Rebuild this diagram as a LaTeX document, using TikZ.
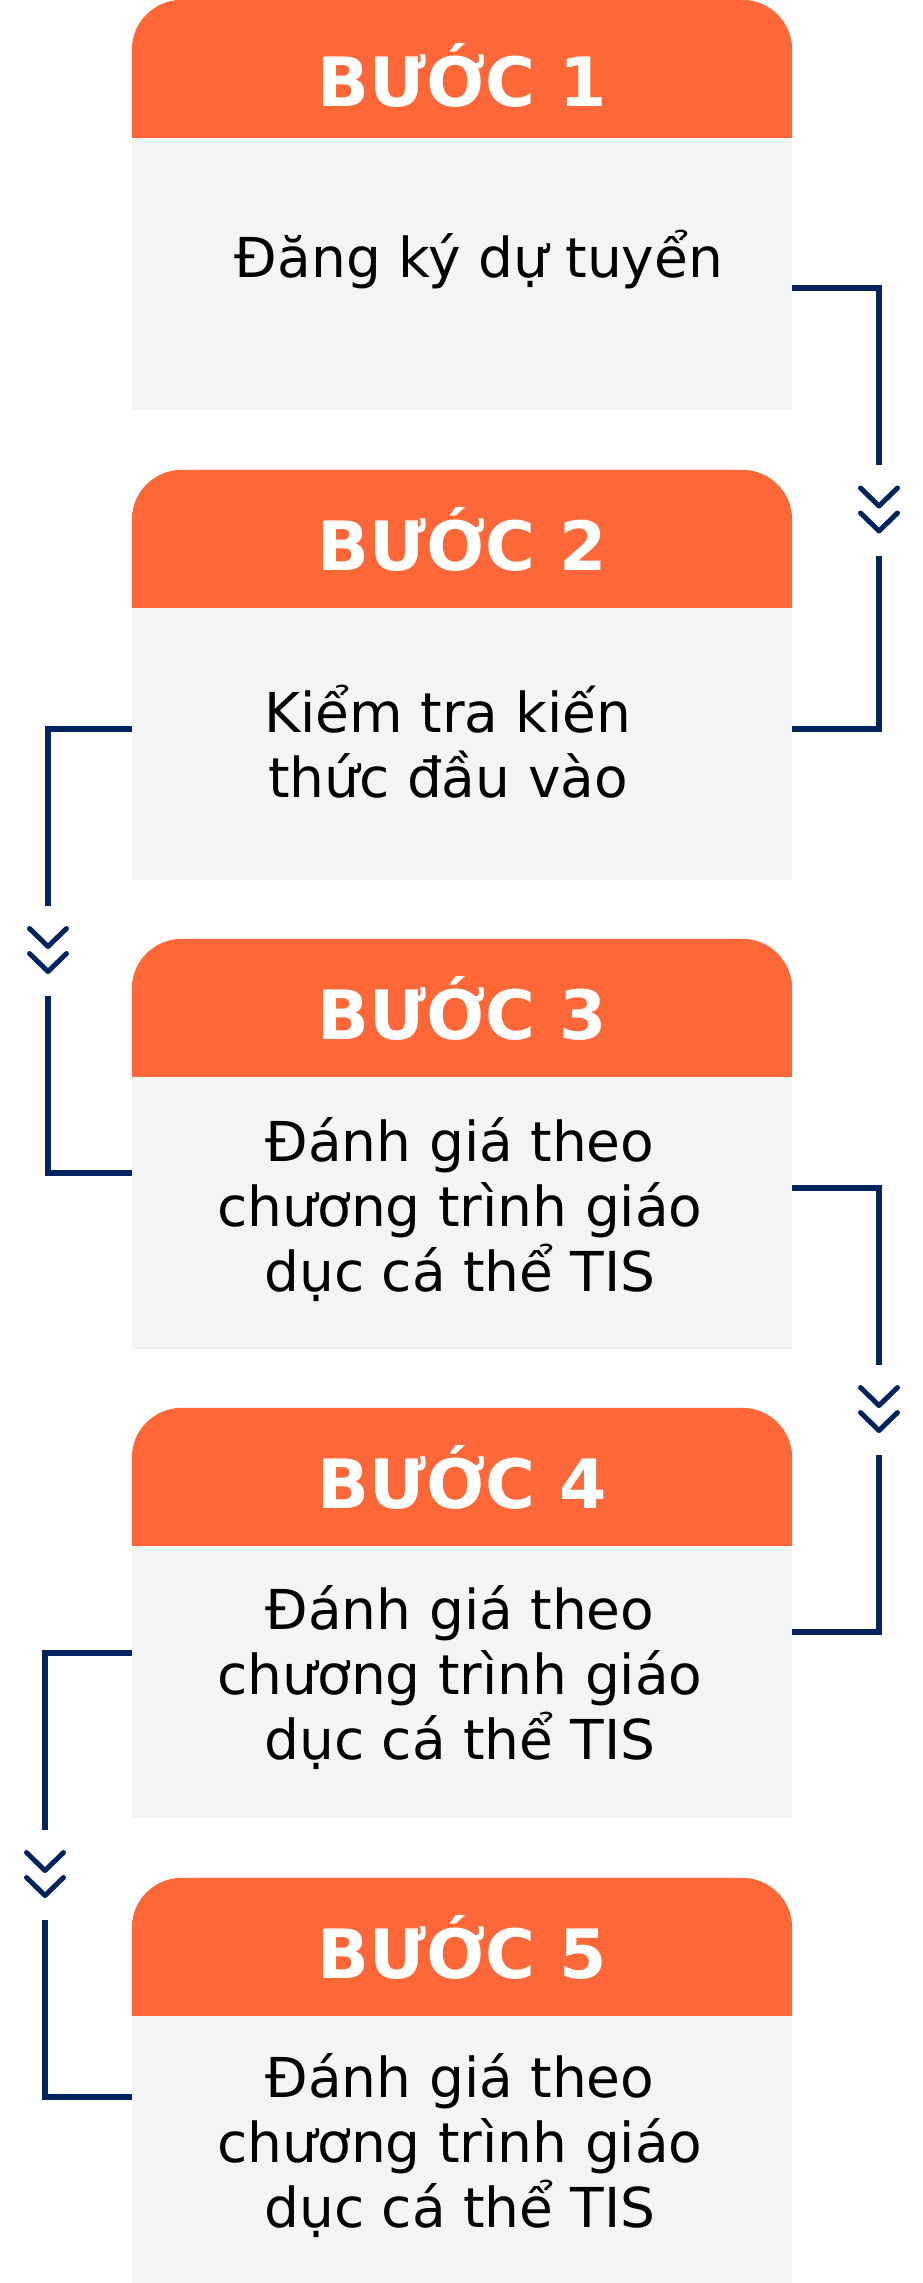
\documentclass[tikz,border=0pt]{standalone}
\usepackage{fontspec}
\setmainfont{DejaVu Sans}
\usepackage{tikz}
\usetikzlibrary{backgrounds}
\definecolor{steporange}{HTML}{FE6738}
\definecolor{stepgray}{HTML}{F4F4F4}
\definecolor{stepnavy}{HTML}{03235F}

\begin{document}
\begin{tikzpicture}[x=1pt, y=-1pt,
  head/.style={minimum width=660pt, minimum height=138pt, inner sep=0pt, text=white, font=\fontsize{68}{80}\selectfont\bfseries, text height=62pt, text depth=0pt},
  headfill/.style={fill=steporange, rounded corners=50pt},
  body/.style={fill=stepgray, minimum width=660pt, minimum height=272pt, inner sep=0pt},
  txt/.style={anchor=north, inner sep=0pt, align=center, font=\fontsize{55}{65}\selectfont, execute at begin node={\rule{0pt}{60pt}}},
  chev/.style={minimum width=42pt, minimum height=90pt, inner sep=0pt},
  link/.style={draw=stepnavy, line width=6pt},
  chevline/.style={draw=stepnavy, line width=5pt, line cap=round, line join=round}]
\useasboundingbox (0,0) rectangle (923,2283);
\node[head, text height=74pt] (h1) at (462,69) {BƯỚC 1};
\node[body] (b1) at (462,274) {};
\node[txt] (t1) at (479,217) {Đăng ký dự tuyển};
\node[head] (h2) at (462,539) {BƯỚC 2};
\node[body] (b2) at (462,744) {};
\node[txt] (t2) at (448,684.5) {Kiểm tra kiến\\thức đầu vào};
\node[head] (h3) at (462,1008) {BƯỚC 3};
\node[body] (b3) at (462,1213) {};
\node[txt] (t3) at (460,1117) {Đánh giá theo\\chương trình giáo\\dục cá thể TIS};
\node[head] (h4) at (462,1477) {BƯỚC 4};
\node[body] (b4) at (462,1682) {};
\node[txt] (t4) at (460,1585) {Đánh giá theo\\chương trình giáo\\dục cá thể TIS};
\node[head] (h5) at (462,1947) {BƯỚC 5};
\node[body] (b5) at (462,2152) {};
\node[txt] (t5) at (460,2053) {Đánh giá theo\\chương trình giáo\\dục cá thể TIS};
\node[chev] (c1) at (879,510.5) {};
\node[chev] (c2) at (48,951) {};
\node[chev] (c3) at (879,1410) {};
\node[chev] (c4) at (45,1875) {};
\begin{scope}[on background layer]
\foreach \h in {h1,h2,h3,h4,h5}
  \fill[headfill] (\h.south west) -- (\h.north west) -- (\h.north east) -- (\h.south east);
\end{scope}
\foreach \c in {c1,c2,c3,c4}
  \foreach \dy in {-22.5,2.5}
    \draw[chevline] ([shift={(-18.5,\dy)}]\c.center) -- ++(18.5,18) -- ++(18.5,-18);
\draw[link] ([yshift=-14pt]b1.east) -| (c1.north);
\draw[link] (c1.south) |- ([yshift=15pt]b2.east);
\draw[link] ([yshift=15pt]b2.west) -| (c2.north);
\draw[link] (c2.south) |- ([yshift=40pt]b3.west);
\draw[link] ([yshift=25pt]b3.east) -| (c3.north);
\draw[link] (c3.south) |- ([yshift=50pt]b4.east);
\draw[link] ([yshift=29pt]b4.west) -| (c4.north);
\draw[link] (c4.south) |- ([yshift=55pt]b5.west);
\end{tikzpicture}
\end{document}
